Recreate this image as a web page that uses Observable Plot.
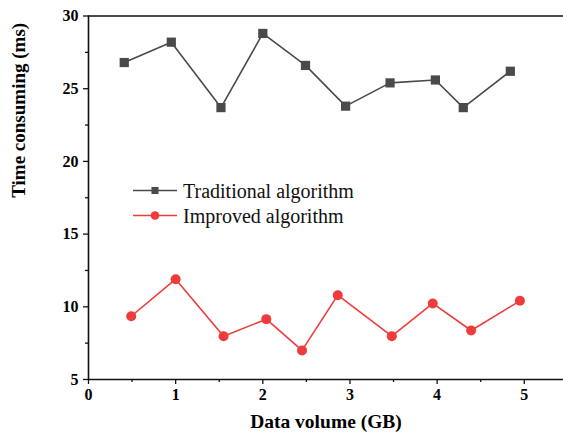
<!DOCTYPE html>
<html><head><meta charset="utf-8">
<script src="https://cdn.jsdelivr.net/npm/d3@7"></script>
<script src="https://cdn.jsdelivr.net/npm/@observablehq/plot@0.6"></script>
<style>
body{margin:0;background:#fff}
svg text{font-family:"Liberation Serif",serif !important}
</style>
</head><body><div id="chart"></div>
<script>
const seriesNames = ["Traditional algorithm", "Improved algorithm"];
const traditionalX = [0.41, 0.95, 1.52, 2.00, 2.49, 2.95, 3.46, 3.98, 4.30, 4.84];
const traditionalY = [26.8, 28.2, 23.7, 28.8, 26.6, 23.8, 25.4, 25.6, 23.7, 26.2];
const improvedX = [0.49, 1.00, 1.55, 2.04, 2.45, 2.86, 3.48, 3.95, 4.39, 4.95];
const improvedY = [9.35, 11.9, 7.98, 9.15, 7.0, 10.8, 7.98, 10.23, 8.37, 10.41];
const xTicks = [0, 1, 2, 3, 4, 5];
const xMinorTicks = [0.5, 1.5, 2.5, 3.5, 4.5];
const yTicks = [5, 10, 15, 20, 25, 30];
const yMinorTicks = [7.5, 12.5, 17.5, 22.5, 27.5];
const colors = ["#4a4a4a", "#ef3b3b"];

const trad = traditionalX.map((x, i) => ({x, y: traditionalY[i]}));
const impr = improvedX.map((x, i) => ({x, y: improvedY[i]}));

const font = "Liberation Serif";
const fmt = d => String(d);
const chart = Plot.plot({
  width: 563, height: 436,
  marginLeft: 88, marginTop: 15.5, marginBottom: 57, marginRight: 0,
  style: {fontFamily: font, fontSize: "16px", color: "#000", background: "#fff", overflow: "visible"},
  x: {domain: [0, 5.45]},
  y: {domain: [5, 30]},
  marks: [
    // tick lines
    Plot.axisX({ticks: xTicks, tickSize: 5, text: null, stroke: "#111", strokeWidth: 1.3, label: null}),
    Plot.axisX({ticks: xMinorTicks, tickSize: 3, text: null, stroke: "#111", strokeWidth: 1.3, label: null}),
    Plot.axisY({ticks: yTicks, tickSize: 5, text: null, stroke: "#111", strokeWidth: 1.3, label: null}),
    Plot.axisY({ticks: yMinorTicks, tickSize: 3, text: null, stroke: "#111", strokeWidth: 1.3, label: null}),
    // tick labels
    Plot.axisX({ticks: xTicks, tickFormat: fmt, tickSize: 0, tickPadding: 9, fontWeight: "bold", fontSize: 16, fill: "#000", label: null}),
    Plot.axisY({ticks: yTicks, tickFormat: fmt, tickSize: 0, tickPadding: 10, fontWeight: "bold", fontSize: 16, fill: "#000", label: null}),
    Plot.ruleY([5], {stroke: "#111", strokeWidth: 1.6}),
    Plot.ruleY([30], {stroke: "#111", strokeWidth: 1.6}),
    Plot.ruleX([0], {stroke: "#111", strokeWidth: 1.6}),
    Plot.line(trad, {x: "x", y: "y", stroke: colors[0], strokeWidth: 1.6}),
    Plot.dot(trad, {x: "x", y: "y", symbol: "square", r: 5.2, fill: colors[0], stroke: "none"}),
    Plot.line(impr, {x: "x", y: "y", stroke: colors[1], strokeWidth: 1.6}),
    Plot.dot(impr, {x: "x", y: "y", symbol: "circle", r: 5, fill: colors[1], stroke: "none"}),
    Plot.text(["Data volume (GB)"], {frameAnchor: "bottom", dy: 48, fontWeight: "bold", fontSize: 19.5, fill: "#000"}),
    Plot.text(["Time consuming (ms)"], {frameAnchor: "left", dx: -70, rotate: -90, fontWeight: "bold", fontSize: 19, fill: "#000"})
  ]
});
document.getElementById("chart").appendChild(chart);

// legend
const svg = d3.select(chart);
const lg = svg.append("g").attr("font-size", 20).attr("text-anchor", "start");
const legendSymbols = [d3.symbolSquare, d3.symbolCircle];
seriesNames.forEach((name, i) => {
  const y = 190.5 + i * 25;
  const g = lg.append("g").attr("transform", `translate(133,${y})`);
  g.append("line").attr("x1", 0).attr("x2", 44).attr("y1", 0).attr("y2", 0).attr("stroke", colors[i]).attr("stroke-width", 1.6);
  g.append("path").attr("d", d3.symbol(legendSymbols[i], i === 0 ? 50 : 60)()).attr("transform", "translate(22,0)").attr("fill", colors[i]);
  g.append("text").attr("x", 50).attr("dy", "0.35em").attr("fill", "#111").attr("text-anchor", "start").text(name);
});
</script></body></html>
